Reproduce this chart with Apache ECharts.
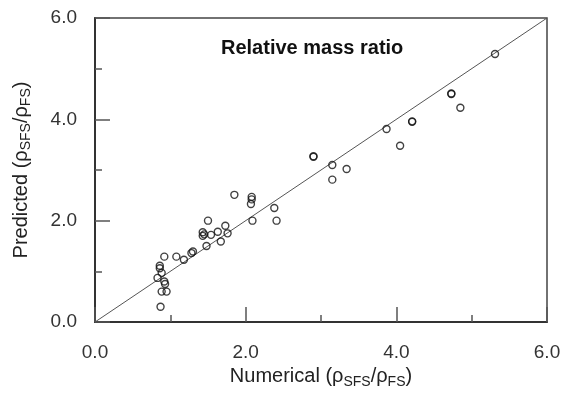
<!DOCTYPE html>
<html><head><meta charset="utf-8">
<script src="https://cdn.jsdelivr.net/npm/echarts@6/dist/echarts.min.js"></script>
<style>html,body{margin:0;padding:0;background:#fff}#c{width:568px;height:398px}</style>
</head><body><div id="c"></div>
<script>
var titleText = 'Relative mass ratio';
var xTicks = [0, 2, 4, 6];
var yTicks = [0, 2, 4, 6];
var numerical = [0.87,0.885,0.95,0.92,0.93,0.83,0.885,0.86,0.86,0.92,1.08,1.18,1.28,1.30,1.43,1.43,1.45,1.48,1.50,1.54,1.63,1.67,1.73,1.76,1.85,2.08,2.08,2.07,2.09,2.38,2.41,2.90,2.90,3.15,3.34,3.15,3.87,4.05,4.21,4.21,4.73,4.73,4.85,5.31];
var predicted = [0.30,0.60,0.60,0.80,0.75,0.87,0.97,1.11,1.06,1.29,1.29,1.23,1.36,1.39,1.77,1.70,1.73,1.50,2.00,1.72,1.78,1.59,1.90,1.75,2.51,2.47,2.42,2.33,2.00,2.25,2.00,3.27,3.26,3.10,3.02,2.81,3.81,3.48,3.95,3.96,4.50,4.51,4.23,5.29];
var diagonal = [[0,0],[6,6]];

var pts = numerical.map(function(v,i){return [v, predicted[i]];});
var font = 'Liberation Sans, Arial, sans-serif';
var rich = {
  n:{fontFamily:font,fontSize:20,color:'#222',lineHeight:24,verticalAlign:'middle'},
  s:{fontFamily:font,fontSize:14,color:'#222',lineHeight:8,verticalAlign:'bottom'}
};
function axisName(a){return '{n|'+a+' (ρ}{s|SFS}{n|/ρ}{s|FS}{n|)}';}
var chart = echarts.init(document.getElementById('c'), null, {renderer:'canvas'});
function commonAxis(){
  return {
    type:'value', min:0, max:6, interval:2,
    axisLine:{show:true,lineStyle:{color:'#333',width:2}},
    axisTick:{show:true,inside:true,length:15,lineStyle:{color:'#555',width:1.5}},
    minorTick:{show:true,splitNumber:2,length:7,lineStyle:{color:'#555',width:1.5}},
    splitLine:{show:false},
    axisLabel:{fontFamily:font,fontSize:19,color:'#333',formatter:function(v){return v.toFixed(1);}},
    nameLocation:'middle',
    nameTextStyle:{rich:rich}
  };
}
var xa = commonAxis(); xa.name = axisName('Numerical'); xa.nameGap = 42; xa.axisLabel.margin = 21;
var ya = commonAxis(); ya.name = axisName('Predicted'); ya.nameGap = 62; ya.axisLabel.margin = 18;
chart.setOption({
  animation:false,
  backgroundColor:'#fff',
  title:{text:titleText,left:216,top:33,textStyle:{fontFamily:font,fontSize:20,fontWeight:'bold',color:'#111'}},
  grid:{left:95,right:21,top:18,bottom:76,show:true,borderColor:'#444',borderWidth:1.5,backgroundColor:'transparent'},
  xAxis:xa,
  yAxis:ya,
  series:[
    {type:'line',data:diagonal,showSymbol:false,symbol:'none',lineStyle:{color:'#555',width:1},z:1,silent:true},
    {type:'scatter',data:pts,symbol:'circle',symbolSize:7,itemStyle:{color:'rgba(255,255,255,0)',borderColor:'#111',borderWidth:1.4},z:2}
  ]
});
</script></body></html>
